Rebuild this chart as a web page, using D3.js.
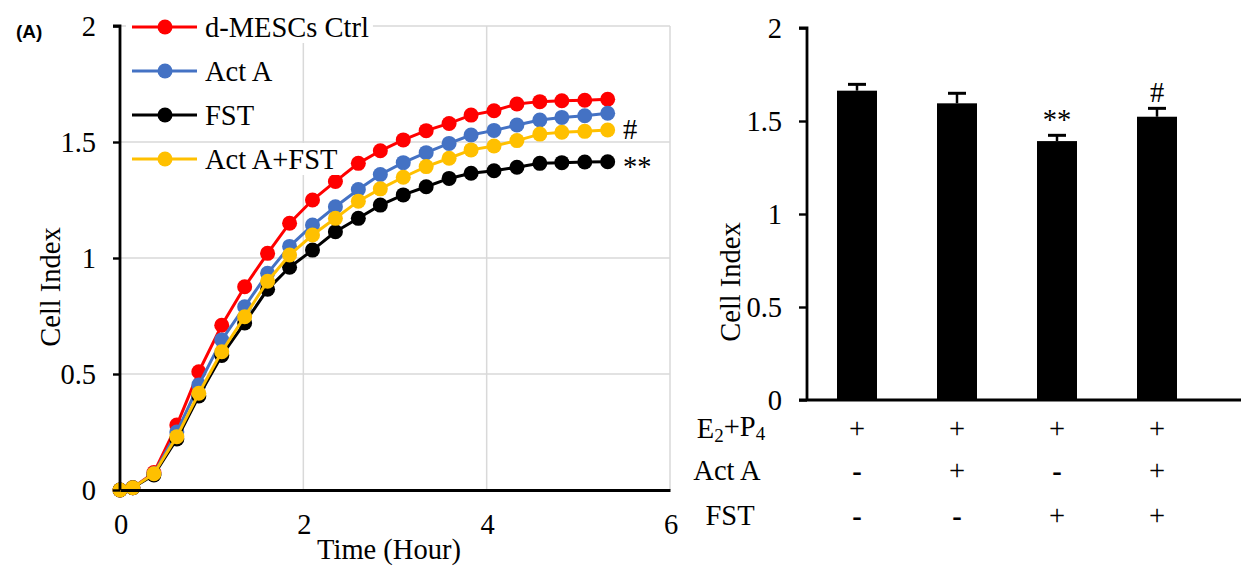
<!DOCTYPE html>
<html><head><meta charset="utf-8">
<script src="https://cdn.jsdelivr.net/npm/d3@7"></script>
<style>html,body{margin:0;padding:0;background:#fff;}svg{display:block;}
text.serif{font-family:"Liberation Serif","Times New Roman",Times,serif;}</style>
</head><body>
<svg id="c" width="1241" height="566"></svg>
<script>
// ---------- data ----------
const times = [0, 0.14, 0.37, 0.62, 0.86, 1.11, 1.36, 1.61, 1.85, 2.10, 2.35, 2.60, 2.84, 3.09, 3.34, 3.59, 3.83, 4.08, 4.33, 4.58, 4.82, 5.07, 5.32];
const seriesNames = ["d-MESCs Ctrl", "Act A", "FST", "Act A+FST"];
const seriesColors = ["#FF0000", "#4472C4", "#000000", "#FFC000"];
const ctrlValues = [0, 0.01, 0.075, 0.28, 0.51, 0.71, 0.876, 1.02, 1.15, 1.25, 1.33, 1.408, 1.462, 1.509, 1.549, 1.58, 1.616, 1.635, 1.664, 1.674, 1.678, 1.68, 1.684];
const actAValues = [0, 0.01, 0.07, 0.25, 0.453, 0.647, 0.79, 0.934, 1.05, 1.142, 1.221, 1.295, 1.36, 1.411, 1.454, 1.494, 1.53, 1.55, 1.573, 1.595, 1.606, 1.613, 1.624];
const fstValues = [0, 0.01, 0.065, 0.22, 0.405, 0.58, 0.72, 0.865, 0.96, 1.034, 1.113, 1.171, 1.228, 1.272, 1.307, 1.343, 1.365, 1.376, 1.391, 1.408, 1.411, 1.414, 1.415];
const actFstValues = [0, 0.01, 0.07, 0.23, 0.417, 0.596, 0.747, 0.9, 1.013, 1.099, 1.171, 1.245, 1.298, 1.348, 1.394, 1.43, 1.466, 1.483, 1.506, 1.534, 1.542, 1.546, 1.552];
const lineYTicks = [0, 0.5, 1, 1.5, 2];
const lineXTicks = [0, 2, 4, 6];
const lineMarks = ["#", "**"];   // next to Act A+FST and FST ends

const barGroups = ["g1", "g2", "g3", "g4"];
const barMeans = [1.663, 1.595, 1.392, 1.523];
const barErrors = [0.034, 0.054, 0.031, 0.045];
const barMarks = ["", "", "**", "#"];
const barYTicks = [0, 0.5, 1, 1.5, 2];
const tableRowLabels = ["E2+P4", "Act A", "FST"];
const tableE2P4 = ["+", "+", "+", "+"];
const tableActA = ["-", "+", "-", "+"];
const tableFST = ["-", "-", "+", "+"];

// ---------- helpers ----------
const svg = d3.select("#c");
const FS = 28.5;
function txt(g, x, y, s, o = {}) {
  const size = o.size || FS;
  let tr = `translate(${x},${y})`;
  if (o.rotate) tr += ` rotate(${o.rotate})`;
  const t = g.append("text").attr("transform", tr).attr("x", 0).attr("y", 0)
    .attr("dy", "0.35em")
    .attr("text-anchor", o.anchor || "middle")
    .attr("font-size", size)
    .attr("font-weight", o.weight || "normal")
    .attr("fill", o.fill || "#000")
    .text(s);
  if (o.family) t.attr("font-family", o.family); else t.attr("class", "serif");
  return t;
}

// ---------- panel label ----------
txt(svg, 16, 31, "(A)", {anchor: "start", size: 19, weight: "bold", family: "Liberation Sans, Arial, sans-serif"});

// ---------- left line chart ----------
const xL = d3.scaleLinear().domain([0, 6]).range([120, 670]);
const yL = d3.scaleLinear().domain([0, 2]).range([490, 26]);
const gL = svg.append("g");

// grid
gL.append("g").selectAll("line").data(lineYTicks.filter(d => d > 0)).join("line")
  .attr("x1", xL(0)).attr("x2", xL(6)).attr("y1", d => yL(d)).attr("y2", d => yL(d))
  .attr("stroke", "#d9d9d9").attr("stroke-width", 1.5);
gL.append("g").selectAll("line").data(lineXTicks.filter(d => d > 0)).join("line")
  .attr("y1", yL(0)).attr("y2", yL(2)).attr("x1", d => xL(d)).attr("x2", d => xL(d))
  .attr("stroke", "#d9d9d9").attr("stroke-width", 1.5);

// series
const allSeries = [ctrlValues, actAValues, fstValues, actFstValues];
const line = d3.line().x((d, i) => xL(times[i])).y(d => yL(d));
allSeries.forEach((vals, si) => {
  const gs = gL.append("g");
  gs.append("path").attr("d", line(vals)).attr("fill", "none")
    .attr("stroke", seriesColors[si]).attr("stroke-width", 3);
  gs.selectAll("circle").data(vals).join("circle")
    .attr("cx", (d, i) => xL(times[i])).attr("cy", d => yL(d)).attr("r", 7.5)
    .attr("fill", seriesColors[si]);
});

// axes
const axL = d3.axisLeft(yL).tickValues(lineYTicks).tickSize(7).tickFormat("");
const gAxL = gL.append("g").attr("transform", `translate(${xL(0)},0)`).call(axL);
gAxL.select(".domain").attr("stroke", "#000").attr("stroke-width", 2.8).attr("d", `M-7,${yL(2)}H0V${yL(0)}`);
gAxL.selectAll(".tick line").attr("stroke", "#000").attr("stroke-width", 2.4);
lineYTicks.forEach(v => txt(gL, 96, yL(v), d3.format("")(v), {anchor: "end"}));

const axB = d3.axisBottom(xL).tickValues(lineXTicks).tickSize(0).tickFormat("");
const gAxB = gL.append("g").attr("transform", `translate(0,${yL(0)})`).call(axB);
gAxB.select(".domain").attr("stroke", "#000").attr("stroke-width", 2.8);
lineXTicks.forEach(v => txt(gL, xL(v) + 1, 524, String(v)));

txt(gL, 389, 549, "Time (Hour)");
txt(gL, 50, 287, "Cell Index", {rotate: -90});

// legend
const legY = [27, 71, 115, 159];
const gLeg = gL.append("g");
seriesNames.forEach((n, i) => {
  const y = legY[i];
  const bg = gLeg.append("rect").attr("x", 126).attr("y", y - 16).attr("height", 32).attr("fill", "#fff");
  gLeg.append("line").attr("x1", 132).attr("x2", 197).attr("y1", y).attr("y2", y)
    .attr("stroke", seriesColors[i]).attr("stroke-width", 3);
  gLeg.append("circle").attr("cx", 165).attr("cy", y).attr("r", 7.5).attr("fill", seriesColors[i]);
  const t = txt(gLeg, 205, y, n, {anchor: "start"});
  bg.attr("width", 205 - 126 + t.node().getComputedTextLength() + 4);
});

// end marks
txt(gL, 623, yL(actFstValues[actFstValues.length - 1]) - 1, lineMarks[0], {anchor: "start"});
txt(gL, 623, yL(fstValues[fstValues.length - 1]) + 4, lineMarks[1], {anchor: "start"});

// ---------- right bar chart ----------
const xR = d3.scaleBand().domain(barGroups).range([807, 1207]).paddingInner(0.6).paddingOuter(0.3);
const yR = d3.scaleLinear().domain([0, 2]).range([400, 28]);
const gR = svg.append("g");

gR.selectAll("rect").data(barMeans).join("rect")
  .attr("x", (d, i) => xR(barGroups[i])).attr("width", xR.bandwidth())
  .attr("y", d => yR(d)).attr("height", d => yR(0) - yR(d)).attr("fill", "#000");
// error bars
barMeans.forEach((m, i) => {
  const cx = xR(barGroups[i]) + xR.bandwidth() / 2;
  gR.append("line").attr("x1", cx).attr("x2", cx).attr("y1", yR(m)).attr("y2", yR(m + barErrors[i]))
    .attr("stroke", "#000").attr("stroke-width", 2.5);
  gR.append("line").attr("x1", cx - 9).attr("x2", cx + 9).attr("y1", yR(m + barErrors[i])).attr("y2", yR(m + barErrors[i]))
    .attr("stroke", "#000").attr("stroke-width", 3);
  if (barMarks[i]) txt(gR, cx, yR(m + barErrors[i]) - 16, barMarks[i]);
});

const axR = d3.axisLeft(yR).tickValues(barYTicks).tickSize(8).tickFormat("");
const gAxR = gR.append("g").attr("transform", `translate(807,0)`).call(axR);
gAxR.select(".domain").attr("stroke", "#000").attr("stroke-width", 2.8).attr("d", `M-8,${yR(2)}H0V${yR(0)}`);
gAxR.selectAll(".tick line").attr("stroke", "#000").attr("stroke-width", 2.4);
barYTicks.forEach(v => txt(gR, 782, yR(v), d3.format("")(v), {anchor: "end"}));
gR.append("line").attr("x1", 799).attr("x2", 1241).attr("y1", yR(0)).attr("y2", yR(0))
  .attr("stroke", "#000").attr("stroke-width", 2.8);

txt(gR, 730, 282, "Cell Index", {rotate: -90});

// table
const rowY = [428, 470, 515];
const tableRows = [tableE2P4, tableActA, tableFST];
const lab0 = txt(gR, 731, rowY[0], "", {});
lab0.append("tspan").text("E");
lab0.append("tspan").attr("font-size", 19).attr("dy", "0.2em").text("2");
lab0.append("tspan").attr("dy", "-0.2em").text("+P");
lab0.append("tspan").attr("font-size", 19).attr("dy", "0.2em").text("4");
txt(gR, 727, rowY[1], tableRowLabels[1]);
txt(gR, 730, rowY[2], tableRowLabels[2]);
tableRows.forEach((row, r) => {
  row.forEach((s, i) => {
    const cx = xR(barGroups[i]) + xR.bandwidth() / 2;
    txt(gR, cx, rowY[r] + (s === "-" ? 1 : 0), s, {weight: s === "-" ? "bold" : "normal"});
  });
});
</script>
</body></html>
